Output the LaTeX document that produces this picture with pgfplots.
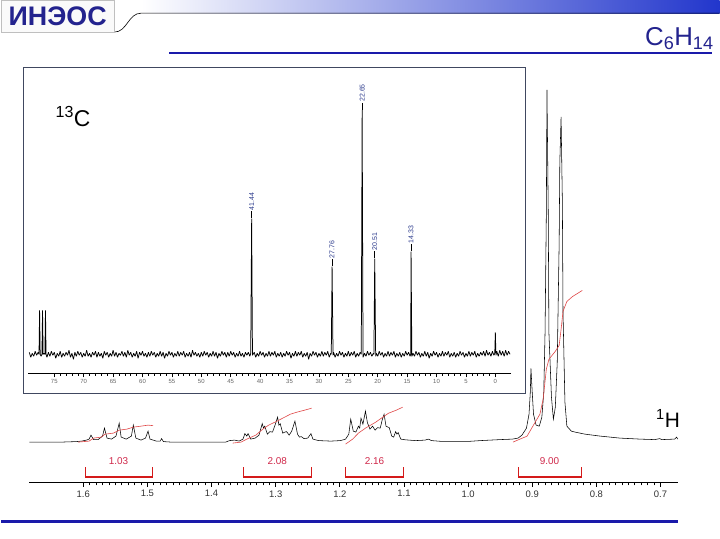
\documentclass[border=0pt]{standalone}
\usepackage{fontspec}
\setmainfont{Liberation Sans}
\usepackage{pgfplots}
\pgfplotsset{compat=1.18}
\definecolor{navy}{HTML}{23238E}
\definecolor{rulecol}{HTML}{1A1AAA}
\definecolor{hdrblue}{HTML}{2236CC}
\definecolor{boxcol}{HTML}{404860}
\definecolor{intred}{HTML}{E04848}
\definecolor{brred}{HTML}{D41A1A}
\definecolor{labred}{HTML}{D0284A}
\definecolor{peaklab}{HTML}{2B3A8C}
\begin{document}
\begin{tikzpicture}
\begin{scope}[x=1bp,y=1bp]
\path[fill=white] (0,0) rectangle (720,-540);
% header
\shade[left color=white, right color=hdrblue] (140,0) rectangle (720,-13);
\draw[black, line width=0.6bp] (113,-32) .. controls (126,-32) and (127,-13) .. (140,-13) -- (720,-13);
\draw[gray!50, fill=gray!4] (0,0) rectangle (113,-32);
\node[anchor=west, font=\fontsize{27}{27}\selectfont\bfseries, text=navy, inner sep=0] at (7,-16) {ИНЭОС};
\node[anchor=base west, font=\fontsize{26}{26}\selectfont, text=navy, inner sep=0] at (645,-45) {C\textsubscript{6}H\textsubscript{14}};
\draw[rulecol, line width=2bp] (168,-53) -- (712,-53);
\draw[rulecol, line width=3bp] (0,-523) -- (678,-523);
\end{scope}

% ---------------- 1H spectrum ----------------
\begin{axis}[at={(28bp,-483bp)}, anchor=south west, scale only axis,
  width=650bp, height=398bp,
  xmin=0.673, xmax=1.684, x dir=reverse, ymin=-40, ymax=358,
  axis x line*=bottom, axis y line=none, clip=false,
  xtick={0.7,0.8,0.9,1.0,1.1,1.2,1.3,1.4,1.5,1.6}, minor x tick num=9,
  tick align=outside, major tick length=5bp, minor tick length=3.5bp,
  tick style={black, line width=0.7bp},
  axis line style={black, line width=0.6bp},
  xticklabel style={font=\fontsize{9.5}{9.5}\selectfont, text=black!80},
  /pgf/number format/.cd, fixed, fixed zerofill, precision=1, assume math mode=true]
\addplot[black, line width=0.55bp] coordinates {
(1.684,0) (1.634,0) (1.611,0.5) (1.603,1) (1.595,2) (1.591,3) (1.588,7) (1.584,2.5)
(1.577,2.5) (1.570,6) (1.567,14) (1.563,4) (1.556,3) (1.549,6) (1.544,19) (1.541,5)
(1.533,3) (1.525,6) (1.522,17) (1.518,4) (1.510,2) (1.503,4) (1.499,11) (1.496,3)
(1.486,1) (1.480,1) (1.478,3.5) (1.475,0.5) (1.463,0) (1.378,0) (1.372,1.5) (1.364,2)
(1.357,1) (1.351,3) (1.348,8.5) (1.345,6) (1.343,8.5) (1.339,3) (1.332,4) (1.326,7)
(1.321,18.5) (1.319,14) (1.317,16) (1.313,8) (1.309,10.5) (1.305,10) (1.301,17) (1.297,25)
(1.295,17) (1.293,18.5) (1.289,9) (1.286,10) (1.283,10.5) (1.279,7) (1.275,11) (1.270,21)
(1.266,8) (1.263,5) (1.260,5.5) (1.256,3.5) (1.250,4) (1.245,8.5) (1.242,3) (1.233,1.5)
(1.214,1) (1.199,1.5) (1.191,3) (1.186,8) (1.183,23) (1.179,11) (1.175,10) (1.171,16)
(1.169,14) (1.167,24) (1.164,18) (1.160,31) (1.157,19.5) (1.153,13) (1.149,16) (1.145,12)
(1.141,14.5) (1.137,14) (1.134,22) (1.131,28) (1.128,16) (1.123,14.5) (1.119,6) (1.116,5)
(1.113,10.5) (1.111,8) (1.109,9.5) (1.105,3) (1.098,2.3) (1.082,1.5) (1.067,2) (1.062,3)
(1.057,1.5) (1.043,0.8) (0.997,0.8) (0.981,1.5) (0.950,2.5) (0.931,3) (0.922,4) (0.916,7)
(0.909,14) (0.905,28) (0.903,50) (0.902,74) (0.900,50) (0.898,28) (0.894,17) (0.889,16)
(0.885,25) (0.882,50) (0.880,110) (0.878,230) (0.877,353) (0.875,230) (0.874,110) (0.870,45)
(0.867,23) (0.864,35) (0.861,80) (0.858,200) (0.857,280) (0.855,326) (0.853,240) (0.852,130)
(0.849,40) (0.846,16) (0.839,11) (0.833,10) (0.818,8) (0.794,6) (0.763,4) (0.732,3)
(0.709,2.5) (0.701,3.5) (0.698,2.5) (0.678,3) (0.675,5) (0.673,3)
};
% integral curves
\addplot[intred, line width=0.6bp] coordinates {
(1.608,0) (1.591,1) (1.584,4) (1.572,5) (1.566,8) (1.553,9) (1.544,12) (1.532,13)
(1.522,15) (1.510,16) (1.499,17) (1.491,16.5)};
\addplot[intred, line width=0.6bp] coordinates {
(1.367,-1) (1.354,0) (1.345,3) (1.331,7) (1.320,13) (1.311,17) (1.298,21) (1.289,24)
(1.277,28) (1.267,30) (1.255,32) (1.244,34)};
\addplot[intred, line width=0.6bp] coordinates {
(1.191,-2) (1.180,3) (1.171,9) (1.160,14) (1.144,20) (1.133,25) (1.124,29) (1.112,32) (1.102,35)};
\addplot[intred, line width=0.6bp] coordinates {
(0.930,0) (0.908,6) (0.899,16) (0.888,28) (0.883,43) (0.878,73) (0.874,83) (0.864,91)
(0.858,97) (0.855,113) (0.852,131) (0.846,141) (0.837,146) (0.822,152)};
% integration brackets
\addplot[brred, line width=0.5bp] coordinates {(1.597,-25) (1.597,-35) (1.493,-35) (1.493,-25)};
\addplot[brred, line width=2.2bp] coordinates {(1.597,-35) (1.493,-35)};
\addplot[brred, line width=0.5bp] coordinates {(1.351,-25) (1.351,-35) (1.244,-35) (1.244,-25)};
\addplot[brred, line width=2.2bp] coordinates {(1.351,-35) (1.244,-35)};
\addplot[brred, line width=0.5bp] coordinates {(1.191,-25) (1.191,-35) (1.101,-35) (1.101,-25)};
\addplot[brred, line width=2.2bp] coordinates {(1.191,-35) (1.101,-35)};
\addplot[brred, line width=0.5bp] coordinates {(0.922,-25) (0.922,-35) (0.824,-35) (0.824,-25)};
\addplot[brred, line width=2.2bp] coordinates {(0.922,-35) (0.824,-35)};
\node[text=labred, font=\fontsize{10}{10}\selectfont] at (axis cs:1.545,-19) {1.03};
\node[text=labred, font=\fontsize{10}{10}\selectfont] at (axis cs:1.2975,-19) {2.08};
\node[text=labred, font=\fontsize{10}{10}\selectfont] at (axis cs:1.146,-19) {2.16};
\node[text=labred, font=\fontsize{10}{10}\selectfont] at (axis cs:0.873,-19) {9.00};
\node[anchor=base west, font=\fontsize{21}{21}\selectfont, inner sep=0] at (axis cs:0.707,15) {\textsuperscript{1}H};
\end{axis}

% ---------------- 13C inset ----------------
\draw[boxcol, fill=white, line width=0.8bp] (22bp,-67bp) rectangle (525bp,-394bp);
\begin{axis}[at={(27bp,-374bp)}, anchor=south west, scale only axis,
  width=484bp, height=304bp,
  xmin=-2.7, xmax=79.4, x dir=reverse, ymin=-19, ymax=285,
  axis x line*=bottom, axis y line=none, clip=false,
  xtick={0,5,...,75}, minor x tick num=4,
  tick align=outside, major tick length=4bp, minor tick length=2.5bp,
  tick style={black, line width=0.5bp},
  axis line style={black, line width=0.5bp},
  xticklabel style={font=\fontsize{6}{6}\selectfont, text=black!60, yshift=1bp},
  /pgf/number format/assume math mode=true]
\addplot[black, line width=0.75bp, line join=bevel] coordinates {
(79.25,2) (79.0,-3) (78.75,1) (78.5,-2) (78.25,3) (78.0,-1) (77.75,2) (77.6,0) (77.5,44) (77.4,0)
(77.25,-2) (77.1,0) (77.0,44) (76.9,0) (76.75,1) (76.6,0) (76.5,44) (76.4,0) (76.25,-3) (76.0,2)
(75.75,-2) (75.5,3) (75.25,-1) (75.0,2) (74.75,-4) (74.5,1) (74.25,-2) (74.0,3) (73.75,-3) (73.5,1)
(73.25,-2) (73.0,2) (72.75,-1) (72.5,4) (72.25,-3) (72.0,1) (71.75,-5) (71.5,2) (71.25,-2) (71.0,3)
(70.75,-1) (70.5,2) (70.25,-3) (70.0,1) (69.75,-2) (69.5,4) (69.25,-2) (69.0,1) (68.75,-3) (68.5,2)
(68.25,-1) (68.0,3) (67.75,-3) (67.5,2) (67.25,-2) (67.0,1) (66.75,-4) (66.5,3) (66.25,-1) (66.0,2)
(65.75,-3) (65.5,1) (65.25,-2) (65.0,4) (64.75,-2) (64.5,2) (64.25,-3) (64.0,1) (63.75,-1) (63.5,3)
(63.25,-2) (63.0,2) (62.75,-3) (62.5,4) (62.25,-1) (62.0,2) (61.75,-3) (61.5,1) (61.25,-2) (61.0,3)
(60.75,-4) (60.5,2) (60.25,-1) (60.0,3) (59.75,-2) (59.5,1) (59.25,-3) (59.0,2) (58.75,-2) (58.5,3)
(58.25,-1) (58.0,2) (57.75,-3) (57.5,1) (57.25,-2) (57.0,3) (56.75,-2) (56.5,2) (56.25,-4) (56.0,1)
(55.75,-2) (55.5,3) (55.25,-1) (55.0,2) (54.75,-3) (54.5,1) (54.25,-2) (54.0,3) (53.75,-2) (53.5,2)
(53.25,-1) (53.0,3) (52.75,-3) (52.5,1) (52.25,-2) (52.0,2) (51.75,-3) (51.5,4) (51.25,-1) (51.0,2)
(50.75,-2) (50.5,1) (50.25,-3) (50.0,2) (49.75,-2) (49.5,3) (49.25,-1) (49.0,2) (48.75,-3) (48.5,1)
(48.25,-2) (48.0,3) (47.75,-2) (47.5,2) (47.25,-4) (47.0,1) (46.75,-2) (46.5,3) (46.25,-1) (46.0,2)
(45.75,-3) (45.5,2) (45.25,-2) (45.0,3) (44.75,-1) (44.5,2) (44.25,-3) (44.0,1) (43.75,-2) (43.5,3)
(43.25,-2) (43.0,1) (42.75,-3) (42.5,2) (42.25,-1) (42.0,2) (41.75,-2) (41.6,1) (41.44,136) (41.3,-1)
(41.0,2) (40.75,-3) (40.5,1) (40.25,-2) (40.0,3) (39.75,-1) (39.5,2) (39.25,-3) (39.0,1) (38.75,-2)
(38.5,3) (38.25,-2) (38.0,2) (37.75,-1) (37.5,3) (37.25,-3) (37.0,1) (36.75,-2) (36.5,2) (36.25,-3)
(36.0,1) (35.75,-2) (35.5,3) (35.25,-1) (35.0,2) (34.75,-4) (34.5,1) (34.25,-2) (34.0,3) (33.75,-2)
(33.5,2) (33.25,-1) (33.0,3) (32.75,-3) (32.5,1) (32.25,-2) (32.0,2) (31.75,-5) (31.5,1) (31.25,-2)
(31.0,3) (30.75,-1) (30.5,2) (30.25,-3) (30.0,1) (29.75,-2) (29.5,3) (29.25,-2) (29.0,2) (28.75,-1)
(28.5,3) (28.25,-3) (28.0,1) (27.9,0) (27.76,88) (27.6,-1) (27.5,2) (27.25,-3) (27.0,1) (26.75,-2)
(26.5,3) (26.25,-1) (26.0,2) (25.75,-3) (25.5,1) (25.25,-2) (25.0,3) (24.75,-2) (24.5,2) (24.25,-1)
(24.0,3) (23.75,-3) (23.5,1) (23.25,-2) (23.0,2) (22.8,0) (22.65,245) (22.5,-3) (22.25,1) (22.0,-2)
(21.75,3) (21.5,-1) (21.25,2) (21.0,-2) (20.75,1) (20.65,0) (20.51,96) (20.35,-2) (20.25,1) (20.0,-2)
(19.75,3) (19.5,-1) (19.25,2) (19.0,-3) (18.75,1) (18.5,-2) (18.25,3) (18.0,-2) (17.75,2) (17.5,-1)
(17.25,3) (17.0,-3) (16.75,1) (16.5,-2) (16.25,2) (16.0,-3) (15.75,1) (15.5,-2) (15.25,3) (15.0,-1)
(14.75,2) (14.5,-2) (14.4,0) (14.33,103) (14.2,-2) (14.0,1) (13.75,-2) (13.5,3) (13.25,-1) (13.0,2)
(12.75,-3) (12.5,1) (12.25,-2) (12.0,3) (11.75,-2) (11.5,2) (11.25,-4) (11.0,1) (10.75,-2) (10.5,3)
(10.25,-1) (10.0,2) (9.75,-3) (9.5,1) (9.25,-2) (9.0,3) (8.75,-2) (8.5,2) (8.25,-1) (8.0,3)
(7.75,-3) (7.5,1) (7.25,-2) (7.0,2) (6.75,-3) (6.5,1) (6.25,-2) (6.0,3) (5.75,-1) (5.5,2)
(5.25,-3) (5.0,1) (4.75,-2) (4.5,3) (4.25,-2) (4.0,2) (3.75,-1) (3.5,3) (3.25,-3) (3.0,1)
(2.75,-2) (2.5,2) (2.25,-1) (2.0,3) (1.75,-2) (1.5,4) (1.25,-1) (1.0,2) (0.75,-2) (0.5,3)
(0.25,-1) (0.1,1) (0.0,22) (-0.1,-1) (-0.25,3) (-0.5,-2) (-0.75,4) (-1.0,-1) (-1.25,3) (-1.5,-2)
(-1.75,4) (-2.0,-1) (-2.25,3) (-2.5,0)
};
\foreach \p/\h in {41.44/136, 27.76/88, 22.65/245, 20.51/96, 14.33/103}{
  \edef\tmp{\noexpand\node[rotate=90, anchor=west, inner sep=0pt, font=\noexpand\fontsize{7}{7}\noexpand\selectfont, text=peaklab] at (axis cs:\p,\h) {\noexpand\textcolor{black}{\noexpand\rule[0.6ex]{7bp}{0.5bp}}\noexpand\,\p};}
  \tmp
}
\node[anchor=base west, font=\fontsize{23}{23}\selectfont, inner sep=0] at (axis cs:74.8,228) {\textsuperscript{13}C};
\end{axis}
\end{tikzpicture}
\end{document}
